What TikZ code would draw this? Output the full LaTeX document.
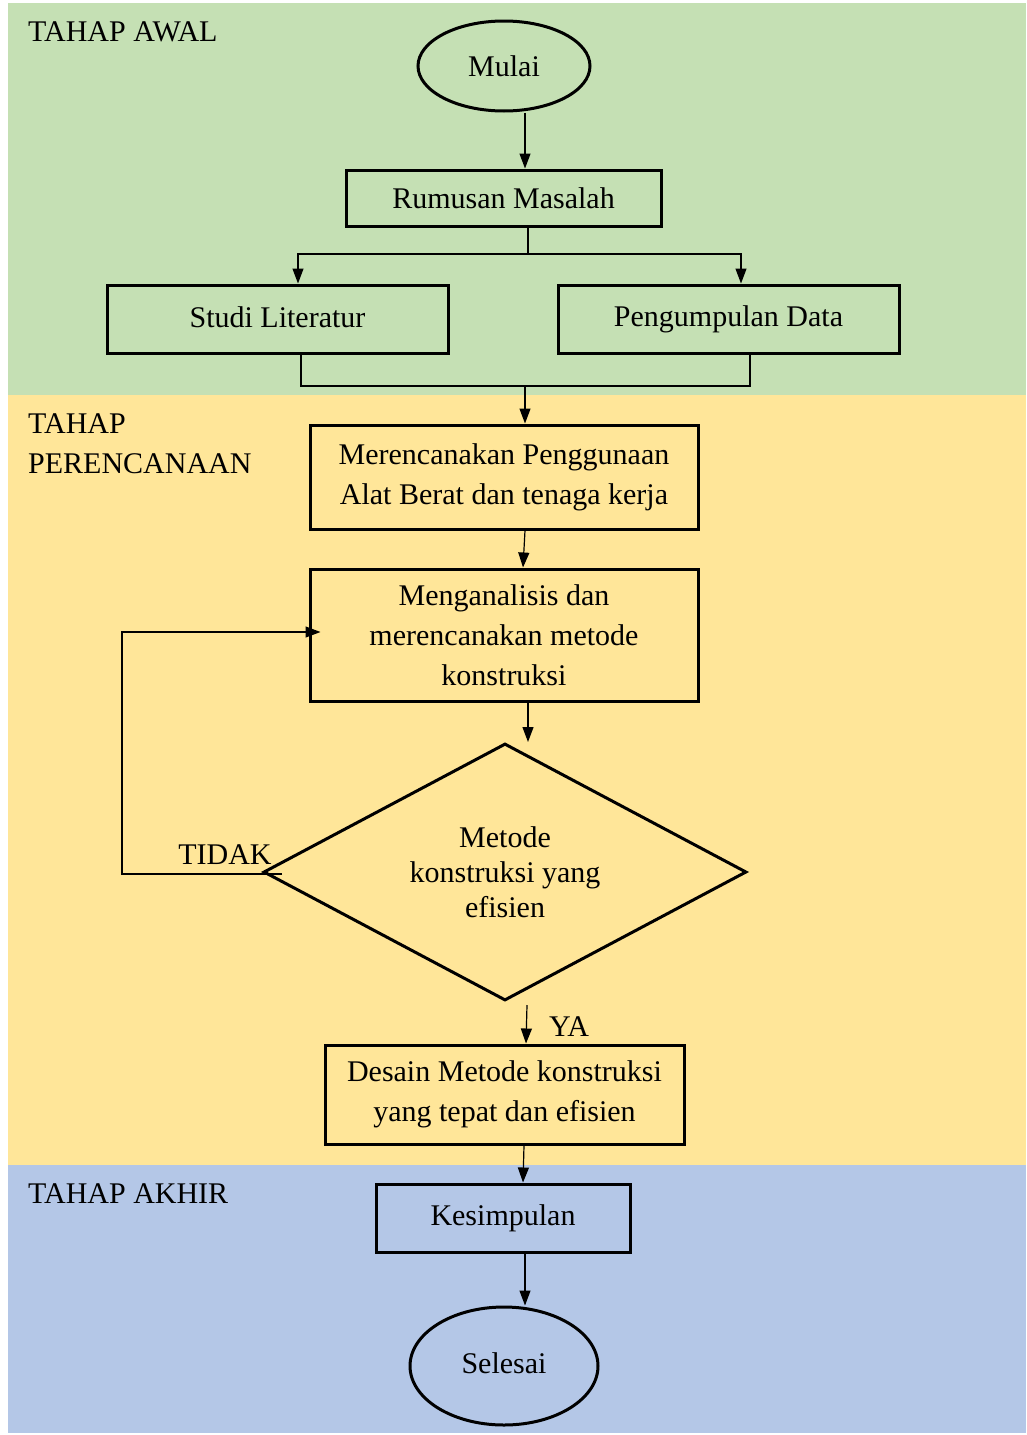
\documentclass[tikz,border=0pt]{standalone}
\usepackage{fontspec}
\setmainfont{Liberation Serif}
\usetikzlibrary{shapes.geometric,arrows.meta}
\definecolor{bgG}{HTML}{C5E0B4}
\definecolor{bgY}{HTML}{FFE699}
\definecolor{bgB}{HTML}{B4C7E7}
\newcommand\fsz{\fontsize{30}{40}\selectfont}
\tikzset{
  box/.style={draw, line width=3pt, inner sep=0pt, align=center, font=\fsz},
  oval/.style={draw, ellipse, line width=3pt, inner sep=0pt, align=center, font=\fsz},
  lbl/.style={inner sep=0pt, font=\fsz, align=left},
  arr/.style={-{Triangle[length=15pt,width=11pt]}, line width=1.2pt},
  ln/.style={line width=1.2pt},
}
\begin{document}
\begin{tikzpicture}[x=1pt,y=-1pt]
\useasboundingbox (0,0) rectangle (1026,1435);
\fill[white] (0,0) rectangle (1026,1435);
\fill[bgG] (8,3) rectangle (1026,395);
\fill[bgY] (8,395) rectangle (1026,1165);
\fill[bgB] (8,1165) rectangle (1026,1433);

\node[lbl, anchor=west] (t1) at (28,32) {TAHAP AWAL};
\node[lbl, anchor=north west, align=left] (t2) at (28,413) {TAHAP\\PERENCANAAN};
\node[lbl, anchor=west] (t3) at (28,1194) {TAHAP AKHIR};

\node[oval, minimum width=172pt, minimum height=90pt] (mulai) at (504,66) {Mulai};
\node[box, minimum width=315pt, minimum height=56pt] (rum) at (503.5,198) {Rumusan Masalah};
\node[box, minimum width=341pt, minimum height=68pt] (studi) at (277.5,319) {\raisebox{4pt}{Studi Literatur}};
\node[box, minimum width=341pt, minimum height=68pt] (peng) at (728.5,319) {\raisebox{4pt}{Pengumpulan Data}};
\node[box, minimum width=388pt, minimum height=104pt] (merc) at (504,477) {Merencanakan Penggunaan\\Alat Berat dan tenaga kerja};
\node[box, minimum width=388pt, minimum height=132pt] (mengan) at (504,635) {\raisebox{-4pt}{\parbox{380pt}{\centering Menganalisis dan\\merencanakan metode\\konstruksi}}};
\node[draw, diamond, aspect=1.88, line width=3pt, inner sep=0pt, minimum width=483pt, minimum height=257pt, align=center, font=\fontsize{30}{35}\selectfont] (dia) at (505,872) {Metode\\konstruksi yang\\efisien};
\node[box, minimum width=359pt, minimum height=99pt] (desain) at (504.5,1094.5) {Desain Metode konstruksi\\yang tepat dan efisien};
\node[box, minimum width=254pt, minimum height=68pt] (kes) at (503,1218) {\raisebox{4pt}{Kesimpulan}};
\node[oval, minimum width=188pt, minimum height=118pt] (sel) at (504,1366) {\raisebox{6pt}{Selesai}};

\node[lbl] (tidak) at (225,855) {TIDAK};
\node[lbl] (ya) at (569,1027) {YA};

\coordinate (split) at (528,254);
\coordinate (merge) at (525,386);
\coordinate (loop) at (122,632);

\draw[arr] ([xshift=21pt]mulai.south) -- ([xshift=21.5pt]rum.north);
\draw[ln] (rum.south -| split) -- (split);
\draw[arr] (split) -| ([xshift=20.5pt]studi.north);
\draw[arr] (split) -| ([xshift=12.5pt]peng.north);
\draw[ln] ([xshift=23.5pt]studi.south) |- (merge) -| ([xshift=21.5pt]peng.south);
\draw[arr] (merge) -- (merc.north -| merge);
\draw[arr] ([xshift=21pt]merc.south) -- ([xshift=19pt]mengan.north);
\draw[arr] ([xshift=24pt]mengan.south) -- ([xshift=23pt]dia.north);
\draw[arr] ([xshift=20pt,yshift=-2pt]dia.west) -| (loop) -- ([xshift=12pt]mengan.west |- loop);
\draw[arr] ([xshift=22pt,yshift=-3pt]dia.south) -- ([xshift=21.5pt]desain.north);
\draw[arr] ([xshift=19.5pt]desain.south) -- ([xshift=20pt]kes.north);
\draw[arr] ([xshift=22pt]kes.south) -- ([xshift=21pt]sel.north);
\end{tikzpicture}
\end{document}
